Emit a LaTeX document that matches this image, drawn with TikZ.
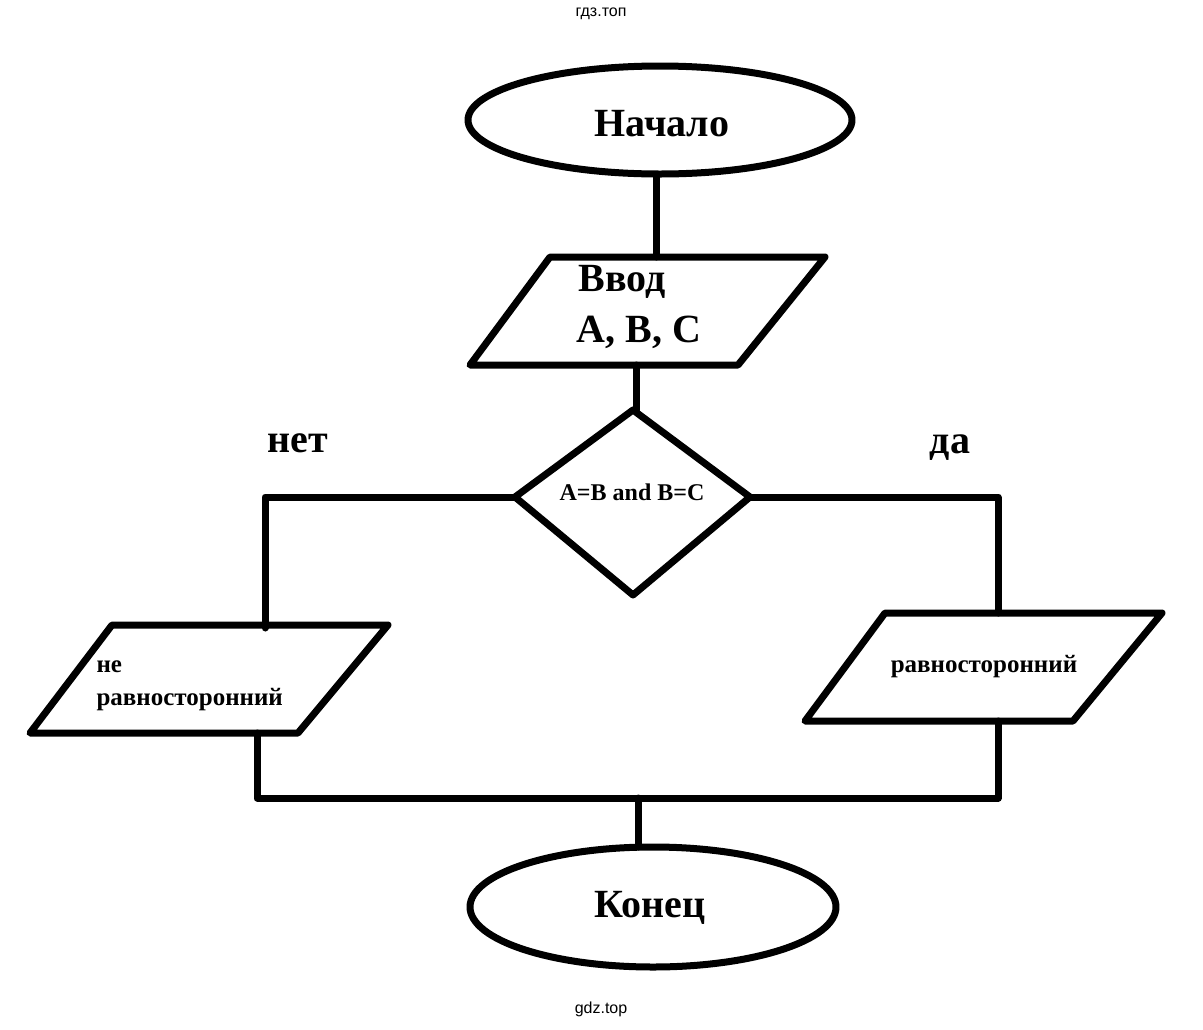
\documentclass[tikz,border=0pt]{standalone}
\usepackage{fontspec}
\setmainfont{Liberation Serif}
\newfontfamily\wm{Liberation Sans}
\begin{document}
\begin{tikzpicture}[x=1pt,y=-1pt,
  ln/.style={line width=7pt,line join=round,line cap=round},
  big/.style={font=\fontsize{40}{44}\selectfont\bfseries},
  mid/.style={font=\fontsize{25}{30}\selectfont\bfseries}]
\useasboundingbox (0,0) rectangle (1203,1029);
\node[font=\wm\fontsize{16}{18}\selectfont] (wt) at (601,14) {гдз.топ};
\node[font=\wm\fontsize{16}{18}\selectfont] (wb) at (601,1009) {gdz.top};
% start
\draw[ln] (660,120) ellipse [x radius=192, y radius=54];
\node[big] (st) at (662,124) {Начало};
\coordinate (s1) at (656,175); \coordinate (s2) at (656,257);
\draw[ln] (s1) -- (s2);
% input
\draw[ln] (550,257) -- (825,257) -- (738,365) -- (470,365) -- cycle;
\node[big,anchor=west] (in1) at (575,282) {Ввод};
\node[big,anchor=west] (in2) at (573,332) {A, B, C};
\coordinate (i1) at (636,365); \coordinate (i2) at (636,410);
\draw[ln] (i1) -- (i2);
% decision
\coordinate (dt) at (633,410); \coordinate (dl) at (515,497);
\coordinate (dr) at (750,497); \coordinate (db) at (633,595);
\draw[ln] (dt) -- (dr) -- (db) -- (dl) -- cycle;
\node[font=\fontsize{24}{28}\selectfont\bfseries] (dc) at (632,492) {A=B and B=C};
\node[big] (no) at (298,443) {нет};
\node[big] (yes) at (950,448) {да};
\coordinate (l1) at (265,497); \coordinate (l2) at (265,628);
\coordinate (r1) at (998,497); \coordinate (r2) at (998,613);
\draw[ln] (dl) -- (l1) -- (l2);
\draw[ln] (dr) -- (r1) -- (r2);
% left output
\draw[ln] (112,625) -- (388,625) -- (298,733) -- (30,733) -- cycle;
\node[mid,anchor=west] (n1) at (93,667) {не};
\node[mid,anchor=west] (n2) at (93,700) {равносторонний};
% right output
\draw[ln] (885,613) -- (1162,613) -- (1073,721) -- (805,721) -- cycle;
\node[mid] (y1) at (984,667) {равносторонний};
% merge
\coordinate (m1) at (257,733); \coordinate (m2) at (257,798);
\coordinate (m3) at (998,798); \coordinate (m4) at (998,721);
\draw[ln] (m1) -- (m2) -- (m3) -- (m4);
\coordinate (e1) at (638,798); \coordinate (e2) at (638,847);
\draw[ln] (e1) -- (e2);
\draw[ln] (653,907) ellipse [x radius=183, y radius=60];
\node[big] (en) at (650,908) {Конец};
\end{tikzpicture}
\end{document}
